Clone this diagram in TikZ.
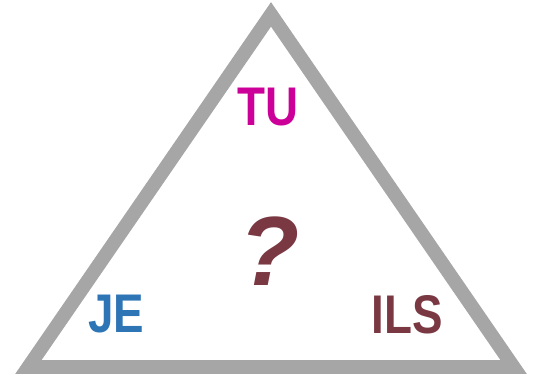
\documentclass[tikz,border=0pt]{standalone}
\usepackage{fontspec}
\setmainfont{Liberation Sans}
\definecolor{edgegray}{RGB}{166,166,166}
\definecolor{tumagenta}{RGB}{204,0,153}
\definecolor{jeblue}{RGB}{46,117,182}
\definecolor{ilsred}{RGB}{122,56,66}
\newcommand{\narrowtext}[1]{\scalebox{0.84}[1]{#1}}
\tikzset{
    pronoun/.style={inner sep=0pt, font=\fontsize{31}{31}\selectfont\bfseries},
    side/.style={draw=edgegray, line width=7.9pt, line join=miter}
}
\begin{document}
\begin{tikzpicture}[x=0.02cm, y=-0.02cm]
        \useasboundingbox (0,0) rectangle (534,377);
        
        \coordinate (top) at (271,14.4);
        \coordinate (left) at (28.4,367);
        \coordinate (right) at (513.6,367);
        \draw[side] (top) -- (left) -- (right) -- cycle;
        
        \node[pronoun, text=tumagenta] (tu) at (268,107) {\narrowtext{TU}};
        \node[pronoun, text=jeblue] (je) at (116,314.5) {\narrowtext{JE}};
        \node[pronoun, text=ilsred] (ils) at (407,314.5) {\narrowtext{ILS}};
        \node[inner sep=0pt, text=ilsred, font=\fontsize{56}{56}\selectfont\bfseries\itshape] (quest) at (270,251) {?};
\end{tikzpicture}
\end{document}
